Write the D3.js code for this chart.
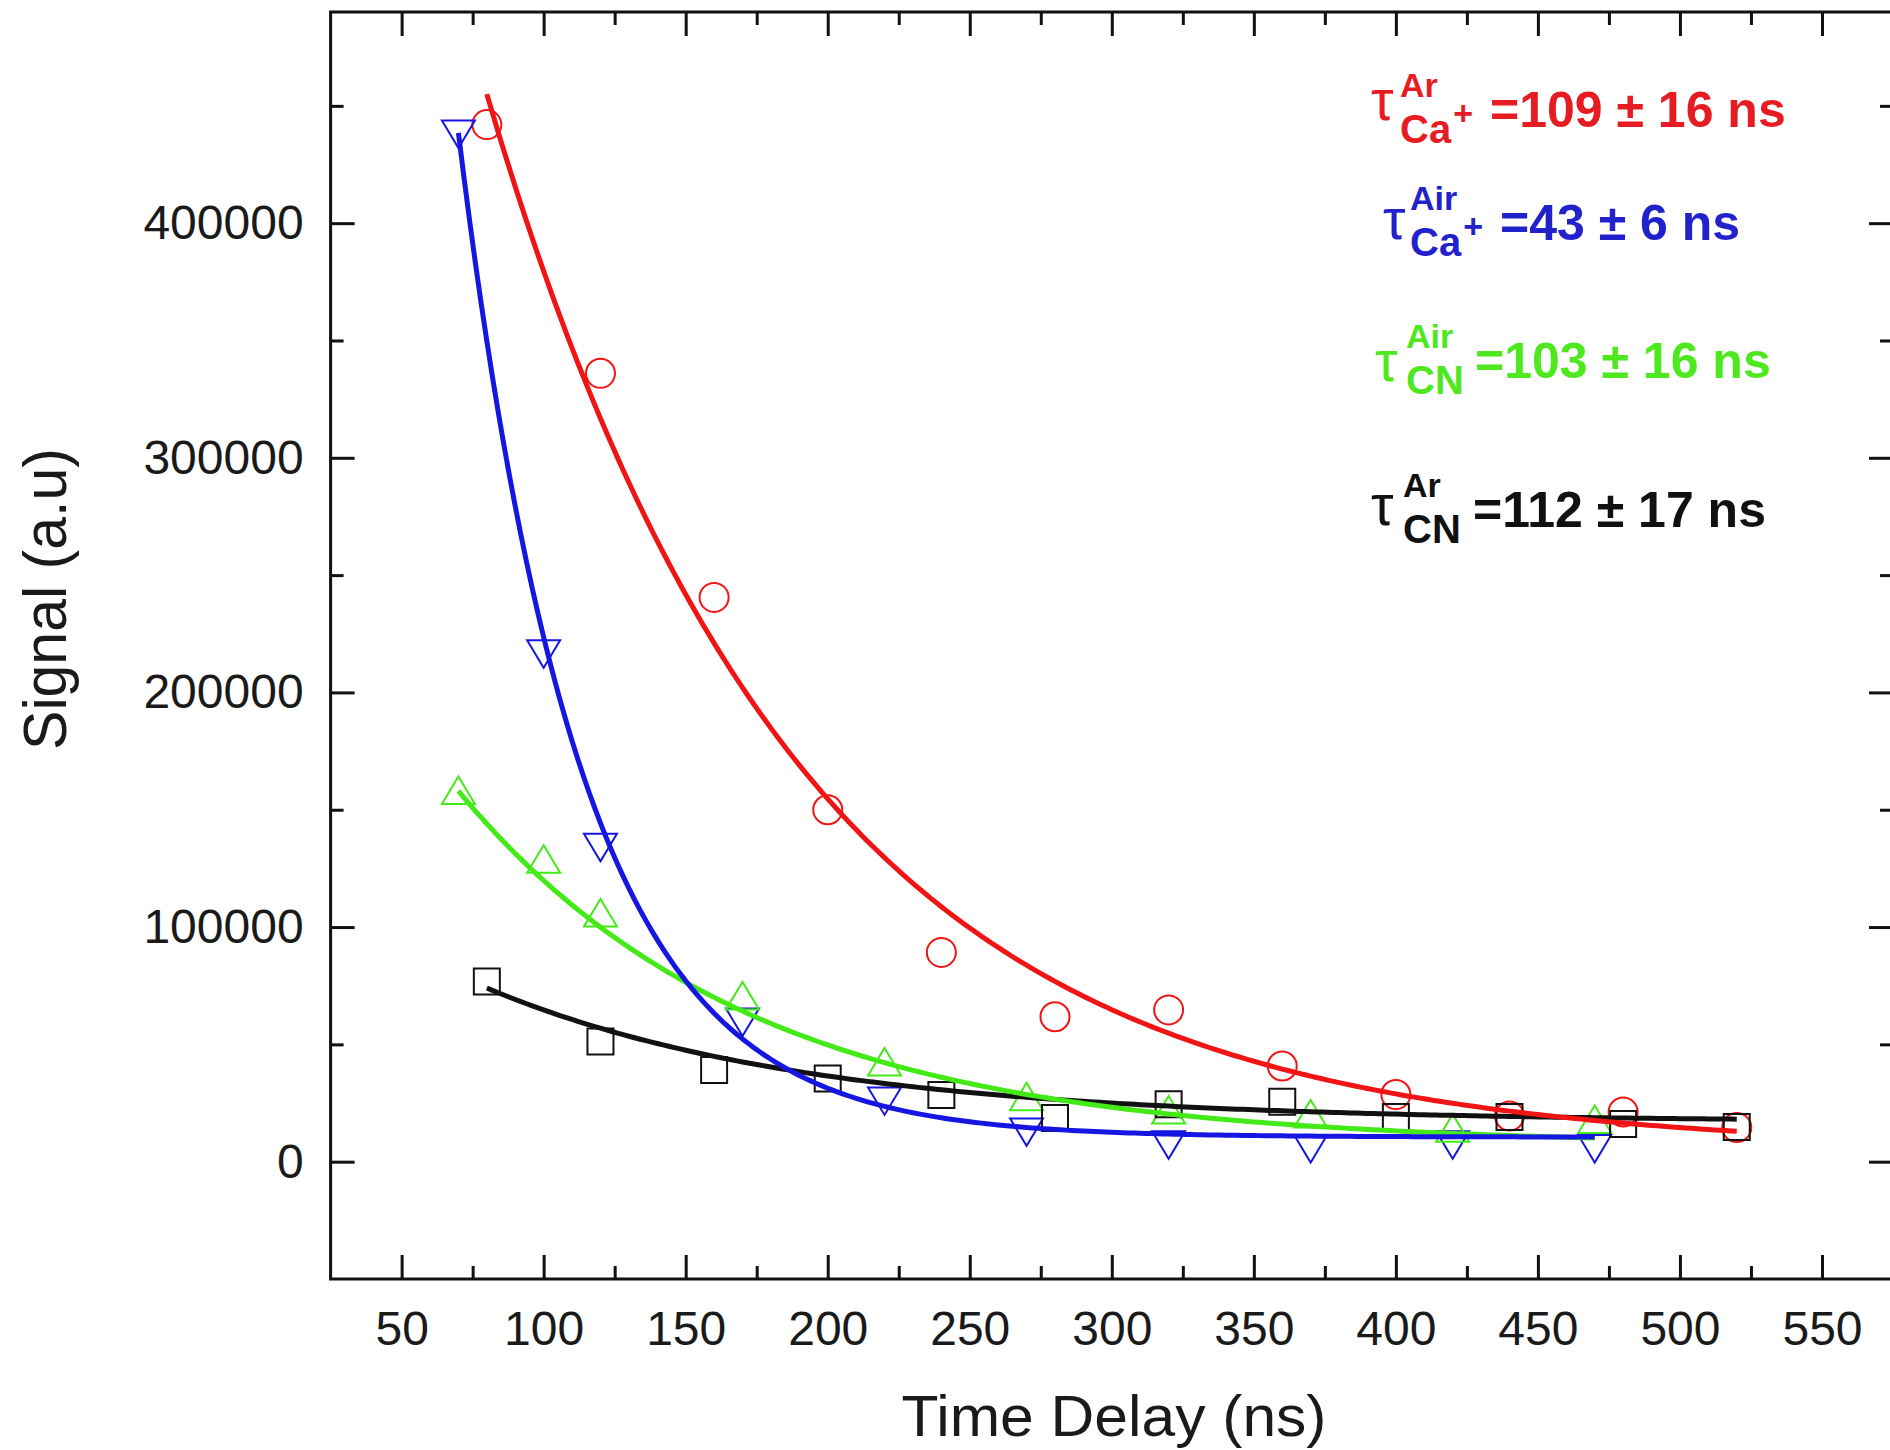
<!DOCTYPE html>
<html>
<head>
<meta charset="utf-8">
<script src="https://cdn.jsdelivr.net/npm/d3@7"></script>
<style>
  html, body { margin: 0; padding: 0; background: #ffffff; }
  svg { display: block; }
  text { font-family: "Liberation Sans", Arial, Helvetica, sans-serif; }
</style>
</head>
<body>
<svg id="chart" width="1890" height="1450"></svg>
<script>
// ---- Measured decay data: time delay (ns) vs. emission signal (a.u.) ----
const timeAr  = [80, 120, 160, 200, 240, 280, 320, 360, 400, 440, 480, 520];
const timeAir = [70, 100, 120, 170, 220, 270, 320, 370, 420, 470];

const caArSignal  = [442000, 336000, 240500, 150000, 89200, 61800, 64700, 40800, 28600, 19500, 21200, 14600];
const caAirSignal = [438000, 216500, 134000, 59500, 25900, 12700, 7200, 5600, 7200, 5600];
const cnAirSignal = [158200, 128900, 106000, 70600, 42500, 27700, 22000, 20300, 14300, 18000];
const cnArSignal  = [76800, 51200, 39100, 35500, 28400, 18600, 24500, 25500, 19000, 19000, 16100, 14800];

// ---- Single-exponential fits: y = y0 + A * exp(-(t - t0) / tau) ----
const fitTau   = [109, 43, 103, 112];
const fitErr   = [16, 6, 16, 17];
const fitT0    = [80, 70, 70, 80];
const fitT1    = [520, 470, 470, 520];
const fitAmp   = [450000, 428000, 151000, 57000];
const fitBase  = [5000, 10500, 7000, 17000];

// ---- Annotation labels ----
const tauSup = ["Ar", "Air", "Air", "Ar"];
const tauSub = ["Ca", "Ca", "CN", "CN"];
const tauIon = ["+", "+", "", ""];

// ---- Axis ticks ----
const xMajor = [50, 100, 150, 200, 250, 300, 350, 400, 450, 500, 550];
const xMinor = [75, 125, 175, 225, 275, 325, 375, 425, 475, 525];
const yMajor = [0, 100000, 200000, 300000, 400000];
const yMinor = [50000, 150000, 250000, 350000, 450000];

// ---- Series styling ----
const seriesColor = ["#f01414", "#1616e2", "#44ea18", "#111111"];
const labelColor  = ["#e61c22", "#2222cc", "#4ee81e", "#111111"];

const series = [
  { t: timeAr,  y: caArSignal,  shape: "circle"  },
  { t: timeAir, y: caAirSignal, shape: "triDown" },
  { t: timeAir, y: cnAirSignal, shape: "triUp"   },
  { t: timeAr,  y: cnArSignal,  shape: "square"  }
];

const svg = d3.select("#chart");
const plotLeft = 330.6, plotRight = 1893, plotTop = 12, plotBottom = 1279;

const x = d3.scaleLinear().domain([25, 575]).range([plotLeft, plotRight]);
const y = d3.scaleLinear().domain([-50000, 490000]).range([plotBottom, plotTop]);

const plot = svg.append("g");

// ---- Axes with inward ticks on all four sides ----
function styleAxis(g, showLabels) {
  g.select(".domain").remove();
  g.selectAll(".tick line").attr("stroke", "#111").attr("stroke-width", 3);
  if (!showLabels) g.selectAll(".tick text").remove();
  else g.selectAll(".tick text").attr("fill", "#1a1a1a").attr("font-size", 48);
}

const majorLen = 24, minorLen = 13;

plot.append("g").attr("transform", `translate(0,${plotBottom})`)
  .call(d3.axisBottom(x).tickValues(xMajor).tickSize(-majorLen).tickPadding(32).tickFormat(d3.format("d")))
  .call(g => styleAxis(g, true));
plot.append("g").attr("transform", `translate(0,${plotBottom})`)
  .call(d3.axisBottom(x).tickValues(xMinor).tickSize(-minorLen))
  .call(g => styleAxis(g, false));
plot.append("g").attr("transform", `translate(0,${plotTop})`)
  .call(d3.axisTop(x).tickValues(xMajor).tickSize(-majorLen))
  .call(g => styleAxis(g, false));
plot.append("g").attr("transform", `translate(0,${plotTop})`)
  .call(d3.axisTop(x).tickValues(xMinor).tickSize(-minorLen))
  .call(g => styleAxis(g, false));

plot.append("g").attr("transform", `translate(${plotLeft},0)`)
  .call(d3.axisLeft(y).tickValues(yMajor).tickSize(-majorLen).tickPadding(27).tickFormat(d3.format("d")))
  .call(g => styleAxis(g, true));
plot.append("g").attr("transform", `translate(${plotLeft},0)`)
  .call(d3.axisLeft(y).tickValues(yMinor).tickSize(-minorLen))
  .call(g => styleAxis(g, false));
plot.append("g").attr("transform", `translate(${plotRight},0)`)
  .call(d3.axisRight(y).tickValues(yMajor).tickSize(-majorLen))
  .call(g => styleAxis(g, false));
plot.append("g").attr("transform", `translate(${plotRight},0)`)
  .call(d3.axisRight(y).tickValues(yMinor).tickSize(-minorLen))
  .call(g => styleAxis(g, false));

// Frame
plot.append("rect")
  .attr("x", plotLeft).attr("y", plotTop)
  .attr("width", plotRight - plotLeft).attr("height", plotBottom - plotTop)
  .attr("fill", "none").attr("stroke", "#111").attr("stroke-width", 3);

// ---- Markers (open symbols) ----
function markerPath(shape) {
  if (shape === "circle") return d3.symbol(d3.symbolCircle, Math.PI * 14.5 * 14.5)();
  if (shape === "square") return "M-13,-13H13V13H-13Z";
  if (shape === "triUp") return "M0,-14L16.5,13.5L-16.5,13.5Z";
  return "M-16.5,-13.5L16.5,-13.5L0,14Z";
}

series.forEach((s, i) => {
  plot.append("g").selectAll("path")
    .data(s.t.map((t, k) => [t, s.y[k]]))
    .join("path")
    .attr("transform", d => `translate(${x(d[0])},${y(d[1])})`)
    .attr("d", markerPath(s.shape))
    .attr("fill", "none")
    .attr("stroke", seriesColor[i])
    .attr("stroke-width", 2);
});

// ---- Fit curves ----
const line = d3.line().x(d => x(d[0])).y(d => y(d[1]));
[3, 2, 1, 0].forEach(i => {
  const ts = d3.range(fitT0[i], fitT1[i] + 0.001, 2);
  const pts = ts.map(t => [t, fitBase[i] + fitAmp[i] * Math.exp(-(t - fitT0[i]) / fitTau[i])]);
  plot.append("path")
    .attr("d", line(pts))
    .attr("fill", "none")
    .attr("stroke", seriesColor[i])
    .attr("stroke-width", 5)
    .attr("stroke-linejoin", "round");
});

// ---- Lifetime annotations ----
const rowBase    = [127, 240, 378, 527];
const rowTauX    = [1371, 1383, 1375, 1371];
const rowTauY    = [120, 239, 381, 525];
const rowScriptX = [1400, 1410, 1406, 1403];
const rowValX    = [1490, 1500, 1475, 1473];

rowBase.forEach((b, i) => {
  const g = svg.append("g").attr("fill", labelColor[i]);
  g.append("text").attr("x", rowTauX[i]).attr("y", rowTauY[i])
    .attr("font-size", 57).text("τ");
  const sx = rowScriptX[i];
  g.append("text").attr("x", sx).attr("y", b - 30)
    .attr("font-size", 34).attr("font-weight", "bold").text(tauSup[i]);
  const sub = g.append("text").attr("x", sx).attr("y", b + 16)
    .attr("font-size", 40).attr("font-weight", "bold").text(tauSub[i]);
  if (tauIon[i]) {
    const w = sub.node().getComputedTextLength();
    g.append("text").attr("x", sx + w + 2).attr("y", b - 2)
      .attr("font-size", 34).attr("font-weight", "bold").text(tauIon[i]);
  }
  g.append("text").attr("x", rowValX[i]).attr("y", b)
    .attr("font-size", 50).attr("font-weight", "bold")
    .text(`=${fitTau[i]} ± ${fitErr[i]} ns`);
});

// ---- Axis titles ----
svg.append("text")
  .attr("x", 1114).attr("y", 1436)
  .attr("text-anchor", "middle")
  .attr("font-size", 58).attr("fill", "#1a1a1a")
  .attr("textLength", 425).attr("lengthAdjust", "spacingAndGlyphs")
  .text("Time Delay (ns)");

svg.append("text")
  .attr("transform", "translate(66,599) rotate(-90)")
  .attr("text-anchor", "middle")
  .attr("font-size", 62).attr("fill", "#1a1a1a")
  .attr("textLength", 302).attr("lengthAdjust", "spacingAndGlyphs")
  .text("Signal (a.u)");
</script>
</body>
</html>
